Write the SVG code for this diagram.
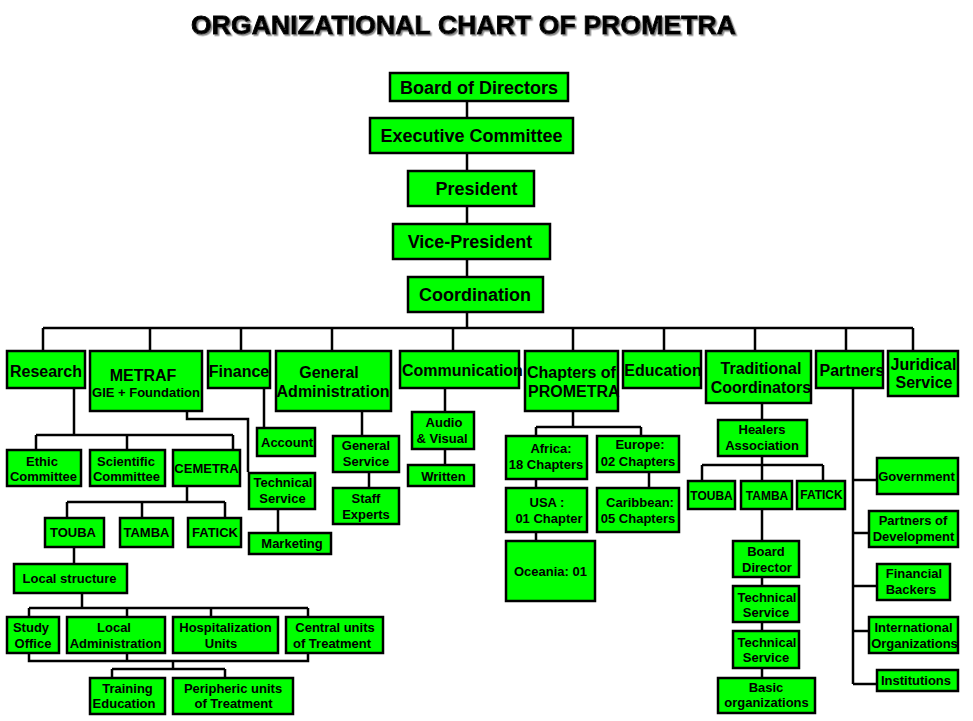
<svg xmlns="http://www.w3.org/2000/svg" width="973" height="721" viewBox="0 0 973 721">
<defs>
<filter id="sh" x="-5%" y="-20%" width="110%" height="150%"><feDropShadow dx="1.5" dy="1.5" stdDeviation="0.5" flood-color="#888"/></filter>
</defs>
<style>
.b{fill:#00ff00;stroke:#000;stroke-width:2.5}
.c{fill:none;stroke:#000;stroke-width:2.5}
text{font-family:"Liberation Sans",Arial,sans-serif;font-weight:bold;fill:#000;text-anchor:middle}
.f18{font-size:18px}.f16{font-size:16px}.f13{font-size:13px}.f12{font-size:12px}
.s{text-anchor:start}
</style>
<rect width="973" height="721" fill="#fff"/>
<text x="463.5" y="34" style="font-size:26.5px" stroke="#000" stroke-width="0.9" textLength="545" filter="url(#sh)">ORGANIZATIONAL CHART OF PROMETRA</text>
<g id="connectors">
<path class="c" d="M467 102V328M43 328H913M43 328V351M150 328V351M241 328V351M332 328V351M453 328V351M573 328V351M664 328V351M755 328V351M846 328V351M913 328V351"/>
<path class="c" d="M74 389V435M36 435H233M36 435V449M127 435V449M233 435V449"/>
<path class="c" d="M187 412V419H248V472M278 510V532M264 389V427"/>
<path class="c" d="M187 487V502M67 502H225M67 502V517M142 502V517M225 502V517M74 548V563"/>
<path class="c" d="M82 594V608M29 608H308M29 608V616M127 608V616M211 608V616M308 608V616"/>
<path class="c" d="M29 654V661H308V654M127 654V661M173 661V669M112 669H225M112 669V677M225 669V677"/>
<path class="c" d="M362 412V435M369 473V487M445 389V411M445 450V464"/>
<path class="c" d="M573 412V427M536 427H641M536 427V435M641 427V435M536 480V540M649 473V487"/>
<path d="M543 458V465" stroke="#000" stroke-width="1"/>
<path class="c" d="M762 404V419M762 457V465M702 465H823M702 465V480M762 465V480M823 465V480M762 510V677"/>
<path class="c" d="M853 389V684M853 480H876M853 533H868M853 586H876M853 631H868M853 684H876"/>
</g>
<g id="board"><rect class="b" x="390" y="73" width="178" height="28"/><text class="f18" x="479" y="94">Board of Directors</text></g>
<g id="executive"><rect class="b" x="370" y="118" width="203" height="35"/><text class="f18" x="471.5" y="142">Executive Committee</text></g>
<g id="president"><rect class="b" x="408" y="171" width="126" height="35"/><text class="f18" x="476.5" y="195">President</text></g>
<g id="vicepresident"><rect class="b" x="393" y="224" width="157" height="35"/><text class="f18" x="470" y="248">Vice-President</text></g>
<g id="coordination"><rect class="b" x="408" y="277" width="135" height="35"/><text class="f18" x="475" y="301">Coordination</text></g>

<g id="research"><rect class="b" x="7" y="351" width="78" height="37"/><text class="f16" x="46" y="377">Research</text></g>
<g id="metraf"><rect class="b" x="90" y="351" width="112" height="60"/><text class="f16" x="143" y="381">METRAF</text><text class="f13" x="146" y="397">GIE + Foundation</text></g>
<g id="finance"><rect class="b" x="208" y="351" width="62" height="37"/><text class="f16" x="239" y="377">Finance</text></g>
<g id="genadmin"><rect class="b" x="276" y="351" width="115" height="60"/><text class="f16" x="329" y="378">General</text><text class="f16" x="333" y="397">Administration</text></g>
<g id="communication"><rect class="b" x="400" y="351" width="119" height="37"/><text class="f16 s" x="402" y="376">Communication</text></g>
<g id="chapters"><rect class="b" x="525" y="351" width="93" height="60"/><text class="f16 s" x="527" y="378">Chapters of</text><text class="f16 s" x="528" y="397">PROMETRA</text></g>
<g id="education"><rect class="b" x="623" y="351" width="78" height="37"/><text class="f16" x="663" y="376">Education</text></g>
<g id="traditional"><rect class="b" x="706" y="351" width="105" height="52"/><text class="f16" x="761" y="374">Traditional</text><text class="f16" x="761" y="393">Coordinators</text></g>
<g id="partners"><rect class="b" x="816" y="351" width="67" height="37"/><text class="f16" x="852" y="376">Partners</text></g>
<g id="juridical"><rect class="b" x="888" y="351" width="70" height="45"/><text class="f16" x="923.5" y="370">Juridical</text><text class="f16" x="924" y="388">Service</text></g>

<g id="ethic"><rect class="b" x="7" y="450" width="74" height="36"/><text class="f13" x="42" y="466">Ethic</text><text class="f13" x="43.5" y="481">Committee</text></g>
<g id="scientific"><rect class="b" x="90" y="450" width="75" height="36"/><text class="f13" x="126" y="466">Scientific</text><text class="f13" x="126.5" y="481">Committee</text></g>
<g id="cemetra"><rect class="b" x="173" y="450" width="67" height="36"/><text class="f13" x="206.5" y="473">CEMETRA</text></g>
<g id="account"><rect class="b" x="257" y="428" width="58" height="28"/><text class="f13" x="287" y="447">Account</text></g>
<g id="techservice1"><rect class="b" x="249" y="473" width="66" height="36"/><text class="f13" x="283" y="487">Technical</text><text class="f13" x="282.5" y="503">Service</text></g>
<g id="marketing"><rect class="b" x="249" y="533" width="82" height="21"/><text class="f13" x="292" y="548">Marketing</text></g>
<g id="genservice"><rect class="b" x="333" y="436" width="66" height="36"/><text class="f13" x="366" y="450">General</text><text class="f13" x="366" y="466">Service</text></g>
<g id="staffexperts"><rect class="b" x="333" y="488" width="66" height="36"/><text class="f13" x="366" y="503">Staff</text><text class="f13" x="366" y="519">Experts</text></g>
<g id="audiovisual"><rect class="b" x="412" y="412" width="62" height="37"/><text class="f13" x="444" y="427">Audio</text><text class="f13" x="442" y="443">&amp; Visual</text></g>
<g id="written"><rect class="b" x="408" y="465" width="66" height="21"/><text class="f13" x="443.5" y="481">Written</text></g>

<g id="africa"><rect class="b" x="506" y="436" width="81" height="43"/><text class="f13" x="551" y="453">Africa:</text><text class="f13" x="546" y="469">18 Chapters</text></g>
<g id="europe"><rect class="b" x="597" y="436" width="82" height="36"/><text class="f13" x="640" y="449">Europe:</text><text class="f13" x="638" y="466">02 Chapters</text></g>
<g id="usa"><rect class="b" x="506" y="488" width="81" height="44"/><text class="f13" x="547" y="507">USA :</text><text class="f13" x="549" y="523">01 Chapter</text></g>
<g id="caribbean"><rect class="b" x="597" y="488" width="82" height="44"/><text class="f13" x="640" y="507">Caribbean:</text><text class="f13" x="638" y="523">05 Chapters</text></g>
<g id="oceania"><rect class="b" x="506" y="541" width="89" height="60"/><text class="f13" x="550.5" y="576">Oceania: 01</text></g>

<g id="healers"><rect class="b" x="718" y="420" width="89" height="36"/><text class="f13" x="762" y="434">Healers</text><text class="f13" x="762" y="450">Association</text></g>
<g id="touba2"><rect class="b" x="688" y="481" width="47" height="28"/><text class="f12" x="711.5" y="500">TOUBA</text></g>
<g id="tamba2"><rect class="b" x="741" y="481" width="51" height="28"/><text class="f12" x="767" y="500">TAMBA</text></g>
<g id="fatick2"><rect class="b" x="797" y="481" width="48" height="28"/><text class="f12" x="821.5" y="499">FATICK</text></g>
<g id="boarddirector"><rect class="b" x="733" y="541" width="66" height="36"/><text class="f13" x="766" y="556">Board</text><text class="f13" x="767" y="572">Director</text></g>
<g id="techservice2"><rect class="b" x="733" y="586" width="66" height="36"/><text class="f13" x="767" y="602">Technical</text><text class="f13" x="766" y="617">Service</text></g>
<g id="techservice3"><rect class="b" x="733" y="631" width="66" height="37"/><text class="f13" x="767" y="647">Technical</text><text class="f13" x="766" y="662">Service</text></g>
<g id="basicorg"><rect class="b" x="718" y="678" width="97" height="35"/><text class="f13" x="766" y="692">Basic</text><text class="f13" x="766.5" y="707">organizations</text></g>

<g id="government"><rect class="b" x="877" y="458" width="81" height="36"/><text class="f13" x="916.5" y="481">Government</text></g>
<g id="partnersdev"><rect class="b" x="869" y="511" width="89" height="36"/><text class="f13" x="913" y="525">Partners of</text><text class="f13" x="913.5" y="541">Development</text></g>
<g id="financial"><rect class="b" x="877" y="564" width="73" height="36"/><text class="f13" x="914" y="578">Financial</text><text class="f13" x="911" y="594">Backers</text></g>
<g id="international"><rect class="b" x="869" y="617" width="89" height="36"/><text class="f13" x="913.5" y="632">International</text><text class="f13" x="914.5" y="648">Organizations</text></g>
<g id="institutions"><rect class="b" x="877" y="670" width="81" height="21"/><text class="f13" x="916" y="685">Institutions</text></g>

<g id="touba1"><rect class="b" x="45" y="518" width="59" height="29"/><text class="f13" x="73" y="537">TOUBA</text></g>
<g id="tamba1"><rect class="b" x="120" y="518" width="53" height="29"/><text class="f13" x="146.5" y="537">TAMBA</text></g>
<g id="fatick1"><rect class="b" x="188" y="518" width="53" height="29"/><text class="f13" x="215" y="537">FATICK</text></g>
<g id="localstructure"><rect class="b" x="14" y="564" width="113" height="29"/><text class="f13" x="69.5" y="583">Local structure</text></g>
<g id="studyoffice"><rect class="b" x="7" y="617" width="52" height="36"/><text class="f13" x="31" y="632">Study</text><text class="f13" x="33" y="648">Office</text></g>
<g id="localadmin"><rect class="b" x="67" y="617" width="98" height="36"/><text class="f13" x="114" y="632">Local</text><text class="f13" x="115.5" y="648">Administration</text></g>
<g id="hospitalization"><rect class="b" x="173" y="617" width="105" height="36"/><text class="f13" x="225.5" y="632">Hospitalization</text><text class="f13" x="221" y="648">Units</text></g>
<g id="centralunits"><rect class="b" x="286" y="617" width="97" height="36"/><text class="f13" x="335" y="632">Central units</text><text class="f13" x="332" y="648">of Treatment</text></g>
<g id="training"><rect class="b" x="90" y="678" width="75" height="36"/><text class="f13" x="127.5" y="693">Training</text><text class="f13" x="124" y="708">Education</text></g>
<g id="peripheric"><rect class="b" x="173" y="678" width="120" height="36"/><text class="f13" x="233" y="693">Peripheric units</text><text class="f13" x="233.5" y="708">of Treatment</text></g>
</svg>
